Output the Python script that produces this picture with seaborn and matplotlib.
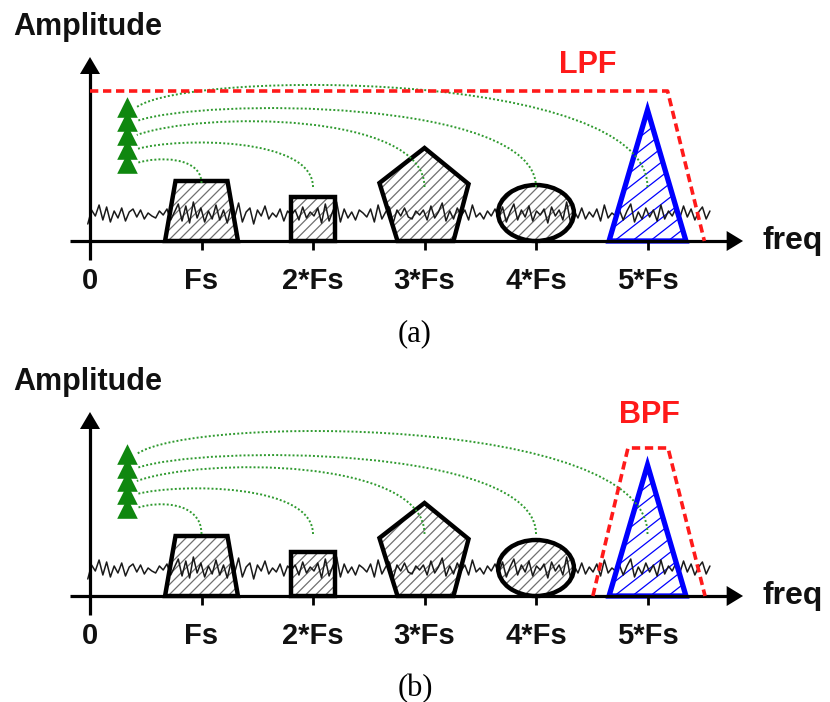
import numpy as np
import matplotlib
matplotlib.use("Agg")
import matplotlib.pyplot as plt
import seaborn as sns
from matplotlib.patches import Polygon, Ellipse, PathPatch
from matplotlib.path import Path
from matplotlib.collections import LineCollection

sns.set_theme(style="white")
plt.rcParams['font.family'] = ['Liberation Sans', 'DejaVu Sans']

# ---------------- data ----------------
HARMONICS = [1, 2, 3, 4, 5]
TICK_POS = [0, 1, 2, 3, 4, 5]
TICK_LABELS = ["0", "Fs", "2*Fs", "3*Fs", "4*Fs", "5*Fs"]
PANEL_CAPTIONS = ["(a)", "(b)"]
FILTER_NAMES = ["LPF", "BPF"]

# spectral shapes (x in multiples of Fs, y in amplitude units)
TRAP_X = [-0.327, -0.233, 0.233, 0.327]
TRAP_Y = [0, 60, 60, 0]
SQUARE_X = [-0.193, -0.193, 0.193, 0.193]
SQUARE_Y = [0, 44, 44, 0]
PENTAGON_X = [-0.404, 0.0, 0.395, 0.26, -0.242]
PENTAGON_Y = [58, 93, 57, 0, 0]
ELLIPSE_SIZE = [0.68, 56]
ELLIPSE_CENTER_Y = 28
TRIANGLE_X = [-0.345, 0.0, 0.345]
TRIANGLE_Y = [0, 131, 0]

# filters
LPF_X = [0.0, 5.18, 5.51]
LPF_Y = [150, 150, 0]
BPF_X = [4.51, 4.825, 5.184, 5.516]
BPF_Y = [0, 148, 148, 0]

# noise floor (offsets around NOISE_LEVEL)
NOISE_LEVEL = 27
NOISE = [-10, 4, -2, 9, -6, 7, -8, 3, -4, 6, -7, 2, 5, -3, 4, -5, 1, -2, -4, 3,
         -1, 5, -6, 2, 10, -7, 8, -9, 12, -4, 6,
         -8, 3, -5, 9, -6, 4, -9, 7, -3, 11, -8, 2, 6, -10, 4, -2, 8, -5, 1, -3,
         5, -7, 3, -1, 4, -6, 7, -4, 2, -2,
         6, -9, 10, -7, 3, 12, -8, 5, -4, 2, -6, 4, 1, -3, 5, -8, 9, -5, 2, 7,
         -9, 4, -2, 6, -3, -5, 3, -1, 4, -6,
         8, -4, 2, 11, -7, 3, -5, 6, -2, 4, -6, 9, -3, 1, -5, 3, -2, 5, -4, 7,
         -8, 2, 10, -6, 4, -3, 8, -7, 3, -1,
         5, -9, 7, -2, 4, -6, 12, -8, 3, -4, 6, -5, 2, -3, 5, -7, 9, -4, 1, -2,
         4, -6, 3, 10, -8, 2, -5, 6, -3, 4,
         -7, 9, -5, 3, -2, 6, -4, 8, -3, 5, -6, 2, 7, -5, 3]
NOISE_RANGE = [-0.02, 5.56]

# green folding arcs (per panel)
CURVE_START = [[58, 54, 54, 54, 54], [62, 62, 62, 62, 62]]
CURVE_END = [[78, 92, 106, 120, 134], [88, 102, 115, 128, 142]]
CURVE_PEAK = [[82, 99, 121, 134, 158], [92, 108, 130, 142, 167]]
CURVE_MID_X = [0.6, 0.8, 1.0, 1.0, 0.9]
ARROW_X = 0.33
CURVE_END_X = 0.42

YLIMS = [(-109, 241), (-106, 246)]
XLIM = (-90 / 111.5, 740 / 111.5)
PX_PER_FS = 111.5

GREEN_DOT = '#2f9a2f'
GREEN_TRI = '#0f870f'
RED = '#ff1a1a'
BLUE = '#0000ff'


def add_hatch(ax, clip_patch, bbox, angle, vspace, color, lw):
    x0, x1, y0, y1 = bbox
    m = np.tan(np.radians(angle)) * PX_PER_FS
    bs = np.arange(y0 - m * x1, y1 - m * x0, vspace)
    segs = [[(x0, m * x0 + b), (x1, m * x1 + b)] for b in bs]
    lc = LineCollection(segs, colors=color, linewidths=lw, zorder=1)
    ax.add_collection(lc, autolim=False)
    lc.set_clip_path(clip_patch)


def draw_shape(ax, xs, ys, x0, hatch_color, edge, angle, vspace, lw):
    pts = np.column_stack([np.asarray(xs) + x0, ys])
    outline = Polygon(pts, closed=True, fill=False, edgecolor=edge, lw=lw,
                      joinstyle='miter', zorder=3)
    ax.add_patch(outline)
    bbox = (pts[:, 0].min(), pts[:, 0].max(), pts[:, 1].min(), pts[:, 1].max())
    add_hatch(ax, outline, bbox, angle, vspace, hatch_color, 0.9)


def draw_panel(ax, p):
    ax.set_xlim(*XLIM)
    ax.set_ylim(*YLIMS[p])
    ax.set_axis_off()

    # axes with arrows
    ax.plot([0, 0], [-19, 170], color='black', lw=2.3, zorder=4, solid_capstyle='butt')
    ax.add_patch(Polygon([[-0.09, 167], [0.09, 167], [0, 184]], closed=True,
                         color='black', lw=0, zorder=4))
    ax.plot([-0.18, 5.72], [0, 0], color='black', lw=2.3, zorder=4, solid_capstyle='butt')
    ax.add_patch(Polygon([[5.71, -10], [5.71, 10], [5.857, 0]], closed=True,
                         color='black', lw=0, zorder=4))
    for t in TICK_POS[1:]:
        ax.plot([t, t], [0, -9], color='black', lw=2.0, zorder=4, solid_capstyle='butt')
    for t, lab in zip(TICK_POS, TICK_LABELS):
        ax.text(t, -48, lab, ha='center', va='baseline', fontsize=21,
                fontweight='bold', color='#111111')

    # noise floor
    nx = np.linspace(NOISE_RANGE[0], NOISE_RANGE[1], len(NOISE))
    ny = NOISE_LEVEL + np.asarray(NOISE)
    sns.lineplot(x=nx, y=ny, ax=ax, color='#1a1a1a', lw=1.1, zorder=2,
                 estimator=None, sort=False)

    # spectral images
    draw_shape(ax, TRAP_X, TRAP_Y, HARMONICS[0], '#707070', 'black', 45, 10, 3.2)
    draw_shape(ax, SQUARE_X, SQUARE_Y, HARMONICS[1], '#707070', 'black', 45, 10, 3.2)
    draw_shape(ax, PENTAGON_X, PENTAGON_Y, HARMONICS[2], '#707070', 'black', 45, 10, 3.2)
    ell = Ellipse((HARMONICS[3], ELLIPSE_CENTER_Y), ELLIPSE_SIZE[0], ELLIPSE_SIZE[1],
                  fill=False, edgecolor='black', lw=3.2, zorder=3)
    ax.add_patch(ell)
    add_hatch(ax, ell, (HARMONICS[3] - ELLIPSE_SIZE[0] / 2, HARMONICS[3] + ELLIPSE_SIZE[0] / 2,
                        ELLIPSE_CENTER_Y - ELLIPSE_SIZE[1] / 2, ELLIPSE_CENTER_Y + ELLIPSE_SIZE[1] / 2),
              45, 10, '#707070', 0.9)
    draw_shape(ax, TRIANGLE_X, TRIANGLE_Y, HARMONICS[4], BLUE, BLUE, 38, 14, 3.8)

    # green arcs
    for i, k in enumerate(HARMONICS):
        s = CURVE_START[p][i]
        e = CURVE_END[p][i]
        pk = CURVE_PEAK[p][i]
        c = (pk - 0.05 * s - 0.2 * e) / 0.75
        verts = [(k, s), (k, c), (CURVE_MID_X[i], c), (CURVE_END_X, e)]
        path = Path(verts, [Path.MOVETO, Path.CURVE4, Path.CURVE4, Path.CURVE4])
        ax.add_patch(PathPatch(path, facecolor='none', edgecolor=GREEN_DOT, lw=1.4,
                               linestyle=(0, (1.0, 1.1)), zorder=5))
    sns.scatterplot(x=[ARROW_X] * len(HARMONICS), y=CURVE_END[p], marker='^', s=220,
                    color=GREEN_TRI, linewidth=0, ax=ax, zorder=6, legend=False)

    # filter
    if p == 0:
        ax.plot(LPF_X, LPF_Y, color=RED, lw=2.6, linestyle=(0, (2.3, 1.3)), zorder=7)
        ax.text(4.466, 176, FILTER_NAMES[0], ha='center', va='center', fontsize=22,
                fontweight='bold', color=RED)
    else:
        ax.plot(BPF_X, BPF_Y, color=RED, lw=2.6, linestyle=(0, (2.3, 1.3)), zorder=7)
        ax.text(5.013, 181, FILTER_NAMES[1], ha='center', va='center', fontsize=22,
                fontweight='bold', color=RED)

    ax.text(-0.69, 206, "Amplitude", ha='left', va='baseline', fontsize=22,
            fontweight='bold', color='#111111')
    ax.text(6.03, 0, "freq", ha='left', va='center', fontsize=23,
            fontweight='bold', color='#111111')
    ax.text(2.915, -100, PANEL_CAPTIONS[p], ha='center', va='baseline', fontsize=22,
            family=['Liberation Serif', 'DejaVu Serif'], color='black')


fig = plt.figure(figsize=(8.3, 7.02), dpi=100)
fig.patch.set_facecolor('white')
ax_a = fig.add_axes([0, 352 / 702, 1, 350 / 702])
ax_b = fig.add_axes([0, 0, 1, 352 / 702])
draw_panel(ax_a, 0)
draw_panel(ax_b, 1)
fig.savefig('out.png', dpi=100, facecolor='white')
